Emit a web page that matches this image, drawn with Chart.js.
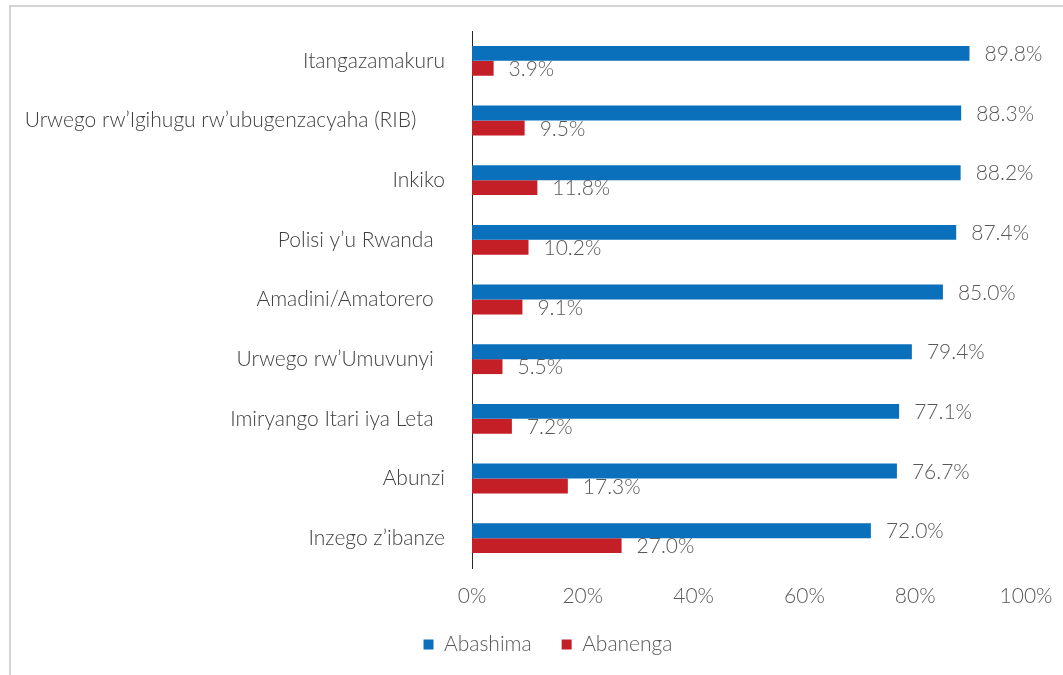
<!DOCTYPE html>
<html>
<head>
<meta charset="utf-8">
<script src="https://cdn.jsdelivr.net/npm/chart.js@4"></script>
<style>
  html, body { margin: 0; padding: 0; background: #fff; }
  #frame {
    position: absolute; left: 9px; top: 5px; width: 1100px; height: 700px;
    border-left: 2px solid #d4d4d4; border-top: 2px solid #d4d4d4;
  }
  #wrap { position: absolute; left: 0; top: 0; width: 1063px; height: 675px; }
</style>
</head>
<body>
<div id="frame"></div>
<div id="wrap"><canvas id="trustChart" width="1063" height="675"></canvas></div>
<script>
const categories = [
  "Itangazamakuru",
  "Urwego rw’Igihugu rw’ubugenzacyaha (RIB)     ",
  "Inkiko",
  "Polisi y’u Rwanda  ",
  "Amadini/Amatorero  ",
  "Urwego rw’Umuvunyi  ",
  "Imiryango Itari iya Leta  ",
  "Abunzi",
  "Inzego z’ibanze"
];
const abashima = [89.8, 88.3, 88.2, 87.4, 85.0, 79.4, 77.1, 76.7, 72.0];
const abanenga = [3.9, 9.5, 11.8, 10.2, 9.1, 5.5, 7.2, 17.3, 27.0];
const xTicks = [0, 20, 40, 60, 80, 100];

const FONT = "Lato, 'Open Sans', sans-serif";
const GREY = "#595959";

// value labels to the right of each bar
const barValues = {
  id: "barValues",
  afterDatasetsDraw(chart) {
    const ctx = chart.ctx;
    ctx.save();
    ctx.font = "300 21px " + FONT;
    ctx.fillStyle = GREY;
    ctx.textAlign = "left";
    ctx.textBaseline = "middle";
    chart.data.datasets.forEach((ds, i) => {
      chart.getDatasetMeta(i).data.forEach((bar, j) => {
        ctx.fillText(ds.data[j].toFixed(1) + "%", bar.x + 15, bar.y + 1);
      });
    });
    ctx.restore();
  }
};

// nudge the legend a little to the right of the canvas centre
const legendShift = {
  id: "legendShift",
  afterLayout(chart) {
    chart.legend.left += 35;
    chart.legend.right += 35;
  }
};

new Chart(document.getElementById("trustChart"), {
  type: "bar",
  data: {
    labels: categories,
    datasets: [
      { label: "Abashima", data: abashima, backgroundColor: "#0a70bc" },
      { label: "Abanenga", data: abanenga, backgroundColor: "#c41f26" }
    ]
  },
  options: {
    indexAxis: "y",
    responsive: false,
    animation: false,
    categoryPercentage: 0.5,
    barPercentage: 1.0,
    layout: { padding: { left: 0, right: 37, top: 31, bottom: 10 } },
    plugins: {
      tooltip: { enabled: false },
      legend: {
        position: "bottom",
        labels: {
          boxWidth: 10, boxHeight: 10, padding: 30,
          color: GREY,
          font: { family: FONT, size: 21, weight: 300 }
        }
      }
    },
    scales: {
      x: {
        min: 0, max: 100,
        afterBuildTicks: s => { s.ticks = xTicks.map(v => ({ value: v })); },
        afterFit: s => { s.height = 36; },
        grid: { display: false },
        border: { display: false },
        ticks: {
          padding: 8,
          color: GREY,
          font: { family: FONT, size: 21, weight: 300 },
          callback: v => v + "%"
        }
      },
      y: {
        afterFit: s => { s.width = 472; s.paddingTop = 0; s.paddingBottom = 0; },
        grid: { display: false, drawTicks: false },
        border: { display: true, color: "#262626", width: 1 },
        ticks: {
          padding: 27,
          color: "#404040",
          font: { family: FONT, size: 21, weight: 300 }
        }
      }
    }
  },
  plugins: [barValues, legendShift]
});
</script>
</body>
</html>
